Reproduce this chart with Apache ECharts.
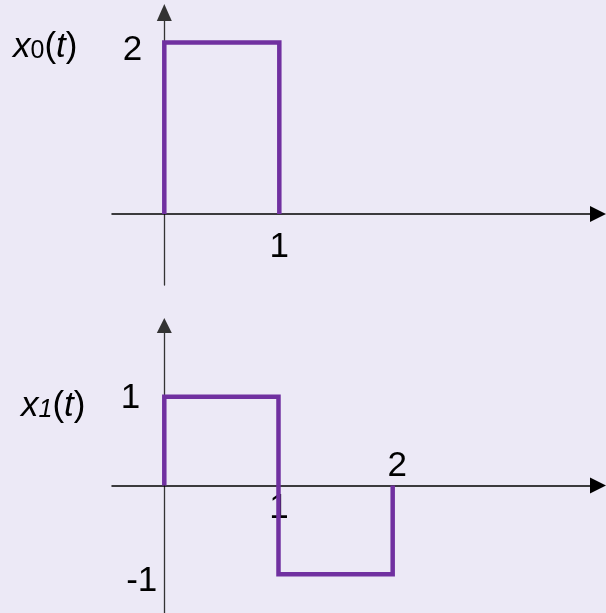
<!DOCTYPE html>
<html>
<head>
<meta charset="utf-8">
<script src="https://cdn.jsdelivr.net/npm/echarts@6/dist/echarts.min.js"></script>
<style>
  html, body { margin: 0; padding: 0; background: #ECE9F6; }
  #chart { width: 606px; height: 613px; }
</style>
</head>
<body>
<div id="chart"></div>
<script>
// signal x0(t): pulse of height 2 on [0,1]
const t0 = [0, 0, 1, 1];
const x0Values = [0, 2, 2, 0];
// signal x1(t): +1 on [0,1], -1 on [1,2]
const t1 = [0, 0, 1, 1, 2, 2];
const x1Values = [0, 1, 1, -1, -1, 0];

// tick labels that are written on the axes
const topXTicks = [1];
const topYTicks = [2];
const botXTicksBelow = [1];
const botXTicksAbove = [2];
const botYTicks = [1, -1];

const purple = '#7030A0';
const font = '"Liberation Sans", Arial, sans-serif';

const chart = echarts.init(document.getElementById('chart'));

// axes sit at t=0 / value=0, moved there with offsets from the grid edges
function xLine() {
  return {
    show: true, onZero: false,
    symbol: ['none', 'triangle'], symbolSize: [16, 16],
    lineStyle: { color: '#000', width: 1.5 }
  };
}
function yLine(arrowH) {
  return {
    show: true, onZero: false,
    symbol: ['none', 'triangle'], symbolSize: [15, arrowH],
    lineStyle: { color: '#333', width: 1.3 }
  };
}
const txt = { fontFamily: font, fontSize: 35, color: '#000', fontWeight: 'normal' };

function nameRich(subItalic, subPad) {
  return {
    i: { fontFamily: font, fontSize: 35, fontStyle: 'italic', fontWeight: 'normal', color: '#000', lineHeight: 38 },
    n: { fontFamily: font, fontSize: 35, fontWeight: 'normal', color: '#000', lineHeight: 38 },
    s: { fontFamily: font, fontSize: 25, fontStyle: subItalic ? 'italic' : 'normal', fontWeight: 'normal',
         color: '#000', lineHeight: 25, padding: [subPad, 0, 0, 0] }
  };
}

chart.setOption({
  backgroundColor: '#ECE9F6',
  animation: false,
  title: [
    {
      left: 13, top: 28, padding: 0,
      text: '{i|x}{s|0}{n|(}{i|t}{n|)}',
      textStyle: { fontWeight: 'normal', rich: nameRich(false, 8) }
    },
    {
      left: 21, top: 387, padding: 0,
      text: '{i|x}{s|1}{n|(}{i|t}{n|)}',
      textStyle: { fontWeight: 'normal', rich: nameRich(true, 9) }
    }
  ],
  grid: [
    { left: 112, right: 8, top: 12.5, height: 272.5, outerBoundsMode: 'none' },
    { left: 112, right: 8, top: 325.5, bottom: 0, outerBoundsMode: 'none' }
  ],
  xAxis: [
    {
      type: 'value', gridIndex: 0, min: -0.4548, max: 3.771, offset: -71,
      axisLine: xLine(), axisTick: { show: false }, splitLine: { show: false },
      axisLabel: Object.assign({ customValues: topXTicks, margin: 16 }, txt)
    },
    {
      type: 'value', gridIndex: 1, min: -0.458, max: 3.798, offset: -127.5,
      axisLine: xLine(), axisTick: { show: false }, splitLine: { show: false },
      axisLabel: Object.assign({ customValues: botXTicksBelow, margin: 5, padding: [0, 0, 0, 1] }, txt)
    },
    {
      type: 'value', gridIndex: 1, position: 'top', min: -0.458, max: 3.798, offset: -160,
      axisLine: { show: false, onZero: false }, axisTick: { show: false }, splitLine: { show: false },
      axisLabel: Object.assign({ customValues: botXTicksAbove, margin: 2, padding: [0, 0, 0, 9] }, txt)
    }
  ],
  yAxis: [
    {
      type: 'value', gridIndex: 0, min: -0.828, max: 2.35, offset: -52.3,
      axisLine: yLine(17), axisTick: { show: false }, splitLine: { show: false },
      axisLabel: {
        customValues: topYTicks, margin: 22,
        formatter: '{u|{value}}',
        rich: { u: Object.assign({ padding: [16, 0, 0, 0] }, txt) }
      }
    },
    {
      type: 'value', gridIndex: 1, min: -1.437, max: 1.803, offset: -52.3,
      axisLine: yLine(15), axisTick: { show: false }, splitLine: { show: false },
      axisLabel: {
        customValues: botYTicks, margin: 7,
        formatter: function (v) { return v < 0 ? '{d|' + v + '}' : '{u|' + v + '}'; },
        rich: {
          u: Object.assign({ padding: [3, 17, 0, 0] }, txt),
          d: Object.assign({ padding: [14, 0, 0, 0] }, txt)
        }
      }
    }
  ],
  series: [
    {
      type: 'line', xAxisIndex: 0, yAxisIndex: 0,
      data: t0.map((t, i) => [t, x0Values[i]]),
      showSymbol: false, z: 5,
      lineStyle: { color: purple, width: 4.5, join: 'miter', cap: 'butt' }
    },
    {
      type: 'line', xAxisIndex: 1, yAxisIndex: 1,
      data: t1.map((t, i) => [t, x1Values[i]]),
      showSymbol: false, z: 5,
      lineStyle: { color: purple, width: 4.5, join: 'miter', cap: 'butt' }
    }
  ]
});
</script>
</body>
</html>
